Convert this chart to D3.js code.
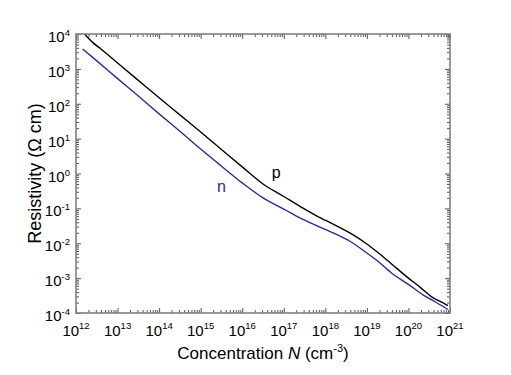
<!DOCTYPE html>
<meta charset="utf-8">
<style>
  body { margin: 0; background: #fff; }
  text { font-family: Arial, "Liberation Sans", sans-serif; }
</style>
<body>
<script src="https://d3js.org/d3.v7.min.js"></script>
<script>

// p-type (black) : log10 of concentration and of resistivity
var pConcExp = [12.22, 12.4, 12.6, 13.0, 13.5, 14.0, 14.5, 15.0, 15.5, 16.0, 16.5, 17.0,
                17.4, 17.8, 18.2, 18.6, 19.0, 19.25, 19.6, 20.0, 20.3, 20.55, 20.8, 20.95];
var pRhoExp  = [3.98, 3.76, 3.57, 3.17, 2.67, 2.17, 1.68, 1.19, 0.69, 0.19, -0.30, -0.66,
                -0.95, -1.22, -1.46, -1.71, -2.02, -2.25, -2.60, -3.00, -3.28, -3.53, -3.69, -3.79];

// n-type (blue)
var nConcExp = [12.16, 12.5, 13.0, 13.5, 14.0, 14.5, 15.0, 15.5, 16.0, 16.5, 17.0,
                17.4, 17.8, 18.2, 18.6, 19.0, 19.25, 19.6, 20.0, 20.35, 20.7, 20.95];
var nRhoExp  = [3.57, 3.23, 2.72, 2.22, 1.71, 1.21, 0.70, 0.21, -0.27, -0.70, -1.02,
                -1.28, -1.50, -1.71, -1.95, -2.28, -2.50, -2.86, -3.18, -3.48, -3.72, -3.90];

var xTickExp = [12, 13, 14, 15, 16, 17, 18, 19, 20, 21];
var yTickExp = [-4, -3, -2, -1, 0, 1, 2, 3, 4];

var W = 511, H = 375;
var margin = {top: 34, right: 61, bottom: 62, left: 76};
var width = W - margin.left - margin.right,
    height = H - margin.top - margin.bottom;

var x = d3.scaleLog().domain([1e12, 1e21]).range([0, width]);
var y = d3.scaleLog().domain([1e-4, 1e4]).range([height, 0]);

var svg = d3.select("body").append("svg")
    .attr("width", W)
    .attr("height", H);

svg.append("rect").attr("width", W).attr("height", H).attr("fill", "#fff");

var g = svg.append("g")
    .attr("transform", "translate(" + margin.left + "," + margin.top + ")");

function minors(exps) {
  var out = [];
  for (var i = 0; i < exps.length - 1; i++)
    for (var k = 2; k <= 9; k++) out.push(k * Math.pow(10, exps[i]));
  return out;
}
var xMajor = xTickExp.map(function(e){ return Math.pow(10, e); });
var yMajor = yTickExp.map(function(e){ return Math.pow(10, e); });
var xMinor = minors(xTickExp), yMinor = minors(yTickExp);

var tickCol = "#555";
function axisGroup(axis, tr) {
  var a = g.append("g").attr("transform", tr).call(axis);
  a.select(".domain").remove();
  a.selectAll("line").attr("stroke", tickCol).attr("stroke-width", 1);
  return a;
}
// major + minor ticks, pointing inwards on all four sides
axisGroup(d3.axisBottom(x).tickValues(xMajor).tickSize(-5).tickSizeOuter(0).tickFormat(""), "translate(0," + height + ")");
axisGroup(d3.axisBottom(x).tickValues(xMinor).tickSize(-3).tickSizeOuter(0).tickFormat(""), "translate(0," + height + ")");
axisGroup(d3.axisTop(x).tickValues(xMajor).tickSize(-5).tickSizeOuter(0).tickFormat(""), "translate(0,0)");
axisGroup(d3.axisTop(x).tickValues(xMinor).tickSize(-3).tickSizeOuter(0).tickFormat(""), "translate(0,0)");
axisGroup(d3.axisLeft(y).tickValues(yMajor).tickSize(-5).tickSizeOuter(0).tickFormat(""), "translate(0,0)");
axisGroup(d3.axisLeft(y).tickValues(yMinor).tickSize(-3).tickSizeOuter(0).tickFormat(""), "translate(0,0)");
axisGroup(d3.axisRight(y).tickValues(yMajor).tickSize(-5).tickSizeOuter(0).tickFormat(""), "translate(" + width + ",0)");
axisGroup(d3.axisRight(y).tickValues(yMinor).tickSize(-3).tickSizeOuter(0).tickFormat(""), "translate(" + width + ",0)");

// frame
g.append("rect")
  .attr("width", width).attr("height", height)
  .attr("fill", "none").attr("stroke", "#808080").attr("stroke-width", 1.6);

// tick labels
var xl = g.selectAll(".xl").data(xTickExp).enter().append("text")
  .attr("class", "xl")
  .attr("x", function(d){ return x(Math.pow(10, d)); })
  .attr("y", height + 23)
  .attr("text-anchor", "middle")
  .attr("font-size", 15);
xl.append("tspan").text("10");
xl.append("tspan").attr("dy", -7).attr("font-size", 9.5).text(function(d){ return d; });

var yl = g.selectAll(".yl").data(yTickExp).enter().append("text")
  .attr("class", "yl")
  .attr("x", -6)
  .attr("y", function(d){ return y(Math.pow(10, d)) + 8; })
  .attr("text-anchor", "end")
  .attr("font-size", 15);
yl.append("tspan").text("10");
yl.append("tspan").attr("dy", -6).attr("font-size", 9.5).text(function(d){ return d; });

// curves
var line = d3.line()
  .x(function(d){ return x(Math.pow(10, d[0])); })
  .y(function(d){ return y(Math.pow(10, d[1])); })
  .curve(d3.curveMonotoneX);

g.append("path")
  .datum(d3.zip(pConcExp, pRhoExp))
  .attr("d", line)
  .attr("fill", "none").attr("stroke", "#000").attr("stroke-width", 1.4);

g.append("path")
  .datum(d3.zip(nConcExp, nRhoExp))
  .attr("d", line)
  .attr("fill", "none").attr("stroke", "#2a2aa0").attr("stroke-width", 1.4);

// curve labels
g.append("text")
  .attr("x", x(Math.pow(10, 16.82))).attr("y", y(Math.pow(10, -0.13)))
  .attr("text-anchor", "middle").attr("font-size", 16).attr("fill", "#000")
  .text("p");
g.append("text")
  .attr("x", x(Math.pow(10, 15.5))).attr("y", y(Math.pow(10, -0.52)))
  .attr("text-anchor", "middle").attr("font-size", 16).attr("fill", "#2a2aa0")
  .text("n");

// axis titles
var xt = svg.append("text")
  .attr("x", margin.left + width / 2)
  .attr("y", 359)
  .attr("text-anchor", "middle")
  .attr("font-size", 17);
xt.append("tspan").text("Concentration ");
xt.append("tspan").attr("font-style", "italic").text("N");
xt.append("tspan").text(" (cm");
xt.append("tspan").attr("dy", -7).attr("font-size", 11).text("-3");
xt.append("tspan").attr("dy", 7).text(")");

svg.append("text")
  .attr("transform", "translate(41," + (margin.top + height / 2) + ") rotate(-90)")
  .attr("text-anchor", "middle")
  .attr("font-size", 18)
  .text("Resistivity (\u03a9 cm)");

</script>
</body>
